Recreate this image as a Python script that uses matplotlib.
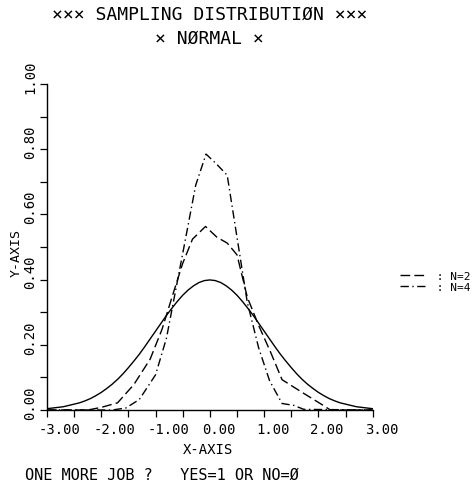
import matplotlib
matplotlib.use('Agg')
import matplotlib.pyplot as plt
import matplotlib.transforms as mtransforms

# ---------------- data ----------------
x_normal = [-3.0, -2.9, -2.8, -2.7, -2.6, -2.5, -2.4, -2.3, -2.2, -2.1, -2.0,
            -1.9, -1.8, -1.7, -1.6, -1.5, -1.4, -1.3, -1.2, -1.1, -1.0,
            -0.9, -0.8, -0.7, -0.6, -0.5, -0.4, -0.3, -0.2, -0.1, 0.0,
            0.1, 0.2, 0.3, 0.4, 0.5, 0.6, 0.7, 0.8, 0.9, 1.0,
            1.1, 1.2, 1.3, 1.4, 1.5, 1.6, 1.7, 1.8, 1.9, 2.0,
            2.1, 2.2, 2.3, 2.4, 2.5, 2.6, 2.7, 2.8, 2.9, 3.0]
y_normal = [0.004, 0.006, 0.008, 0.010, 0.014, 0.018, 0.022, 0.028, 0.035, 0.044, 0.054,
            0.066, 0.079, 0.094, 0.111, 0.130, 0.150, 0.171, 0.194, 0.218, 0.242,
            0.266, 0.290, 0.312, 0.333, 0.352, 0.368, 0.381, 0.391, 0.397, 0.399,
            0.397, 0.391, 0.381, 0.368, 0.352, 0.333, 0.312, 0.290, 0.266, 0.242,
            0.218, 0.194, 0.171, 0.150, 0.130, 0.111, 0.094, 0.079, 0.066, 0.054,
            0.044, 0.035, 0.028, 0.022, 0.018, 0.014, 0.010, 0.008, 0.006, 0.004]

x_n2 = [-3.00, -2.25, -2.00, -1.70, -1.40, -1.10, -0.88, -0.69, -0.50, -0.32, -0.08,
        0.13, 0.32, 0.50, 0.69, 0.90, 1.12, 1.33, 1.70, 2.10, 2.22, 3.00]
y_n2 = [0.000, 0.000, 0.008, 0.022, 0.078, 0.156, 0.248, 0.350, 0.450, 0.524, 0.563,
        0.530, 0.512, 0.476, 0.346, 0.259, 0.177, 0.093, 0.054, 0.013, 0.000, 0.000]

x_n4 = [-3.00, -1.80, -1.55, -1.30, -1.00, -0.80, -0.65, -0.50, -0.26, -0.07,
        0.12, 0.32, 0.50, 0.69, 0.90, 1.10, 1.33, 1.55, 1.73, 3.00]
y_n4 = [0.000, 0.000, 0.006, 0.032, 0.108, 0.220, 0.350, 0.480, 0.690, 0.785,
        0.755, 0.720, 0.530, 0.330, 0.190, 0.090, 0.020, 0.014, 0.002, 0.000]

series_labels = [' : N=2', ' : N=4']

x_ticks = [-3.0, -2.5, -2.0, -1.5, -1.0, -0.5, 0.0, 0.5, 1.0, 1.5, 2.0, 2.5, 3.0]
x_tick_labels = ['-3.00', '', '-2.00', '', '-1.00', '', '0.00', '', '1.00', '', '2.00', '', '3.00']
y_ticks = [0.0, 0.1, 0.2, 0.3, 0.4, 0.5, 0.6, 0.7, 0.8, 0.9, 1.0]
y_tick_labels = ['0.00', '', '0.20', '', '0.40', '', '0.60', '', '0.80', '', '1.00']

title_line1 = '\u00d7\u00d7\u00d7 SAMPLING DISTRIBUTI\u00d8N \u00d7\u00d7\u00d7'
title_line2 = '\u00d7 N\u00d8RMAL \u00d7'
x_label = 'X-AXIS'
y_label = 'Y-AXIS'
footer = 'ONE MORE JOB ?   YES=1 OR NO=\u00d8'

# ---------------- figure ----------------
plt.rcParams['font.family'] = ['DejaVu Sans Mono', 'DejaVu Sans']
plt.rcParams['lines.scale_dashes'] = False

W, H = 477, 481
fig = plt.figure(figsize=(W / 100, H / 100), dpi=100)
ax_left, ax_right, ax_top, ax_bottom = 47.0, 372.7, 85.0, 411.0
ax = fig.add_axes([ax_left / W, 1 - ax_bottom / H, (ax_right - ax_left) / W, (ax_bottom - ax_top) / H])

lw = 1.0
ax.plot(x_normal, y_normal, color='black', lw=lw, solid_joinstyle='round')
l2, = ax.plot(x_n2, y_n2, color='black', lw=lw, linestyle=(0, (7, 3)), label=series_labels[0])
l4, = ax.plot(x_n4, y_n4, color='black', lw=lw, linestyle=(0, (6, 2.5, 1, 2.5)), label=series_labels[1])

ax.set_xlim(-3, 3)
ax.set_ylim(0, 1)
for s in ['top', 'right']:
    ax.spines[s].set_visible(False)
for s in ['left', 'bottom']:
    ax.spines[s].set_linewidth(1.0)

ax.set_xticks(x_ticks)
ax.set_xticklabels(x_tick_labels, fontsize=10)
ax.set_yticks(y_ticks)
ax.set_yticklabels(y_tick_labels, fontsize=10, rotation=90)
ax.tick_params(direction='out', length=5, width=0.9, color='black')
ax.tick_params(axis='x', pad=4)
ax.tick_params(axis='y', pad=2)

offx = mtransforms.ScaledTranslation(-0.08, 0, fig.dpi_scale_trans)
for lbl in ax.get_xticklabels():
    lbl.set_horizontalalignment('left')
    lbl.set_transform(lbl.get_transform() + offx)
offy = mtransforms.ScaledTranslation(0, 0.08, fig.dpi_scale_trans)
for lbl in ax.get_yticklabels():
    lbl.set_verticalalignment('center')
    lbl.set_transform(lbl.get_transform() + offy)

# titles centred on x = 0 of the axis
xc = (ax_left + ax_right) / 2 / W
fig.text(xc, 1 - 15 / H, title_line1, ha='center', va='center', fontsize=13)
fig.text(xc, 1 - 38.5 / H, title_line2, ha='center', va='center', fontsize=13)
fig.text(208 / W, 1 - 450 / H, x_label, ha='center', va='center', fontsize=10)
fig.text(16 / W, 1 - 253 / H, y_label, ha='center', va='center', fontsize=9.5, rotation=90)
fig.text(25 / W, 1 - 475 / H, footer, ha='left', va='center', fontsize=11)

leg = ax.legend(handles=[l2, l4], loc='upper left', bbox_to_anchor=(400 / W, 1 - 272 / H),
                bbox_transform=fig.transFigure, frameon=False, fontsize=8,
                handlelength=2.4, handletextpad=0.3, labelspacing=0.05, borderpad=0, borderaxespad=0)

fig.savefig('out.png', dpi=100)
